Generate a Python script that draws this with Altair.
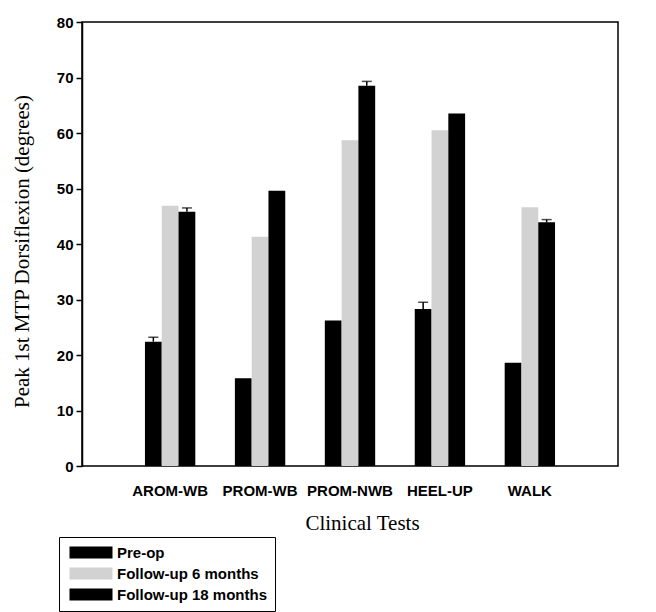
import altair as alt
import pandas as pd

tests = ["AROM-WB", "PROM-WB", "PROM-NWB", "HEEL-UP", "WALK"]
series = ["Pre-op", "Follow-up 6 months", "Follow-up 18 months"]
pre_op = [22.4, 15.8, 26.2, 28.3, 18.6]
fu6 = [46.9, 41.3, 58.7, 60.5, 46.6]
fu18 = [45.8, 49.6, 68.5, 63.5, 43.9]
err_pre = [0.8, 0.0, 0.0, 1.2, 0.0]
err_6 = [0.0, 0.0, 0.0, 0.0, 0.0]
err_18 = [0.7, 0.0, 0.8, 0.0, 0.5]

rows = []
for name, vals, errs in zip(series, [pre_op, fu6, fu18], [err_pre, err_6, err_18]):
    for t, v, e in zip(tests, vals, errs):
        rows.append({"test": t, "series": name, "value": v, "err": e, "top": v + e})
df = pd.DataFrame(rows)

SANS = "Liberation Sans"
SERIF = "Liberation Serif"

x_enc = alt.X(
    "test:N",
    sort=tests,
    scale=alt.Scale(paddingInner=0.44, paddingOuter=0.7),
    axis=alt.Axis(
        title="Clinical Tests",
        ticks=False,
        domain=False,
        labelAngle=0,
        labelPadding=17,
        labelFont=SANS,
        labelFontSize=15,
        labelFontWeight="bold",
        labelColor="black",
        titleFont=SERIF,
        titleFontSize=21,
        titleFontWeight="normal",
        titleColor="black",
        titleX=280,
        titleY=57,
        titleBaseline="middle",
        titleAlign="center",
    ),
)
xoff = alt.XOffset("series:N", sort=series, scale=alt.Scale(paddingInner=0, paddingOuter=0))

y_scale = alt.Scale(domain=[0, 80], nice=False)
y_axis = alt.Axis(
    title="Peak 1st MTP Dorsiflexion (degrees)",
    values=[0, 10, 20, 30, 40, 50, 60, 70, 80],
    grid=False,
    tickSize=6,
    tickColor="black",
    tickWidth=1.5,
    domainColor="black",
    domainWidth=1.5,
    labelPadding=3,
    labelFont=SANS,
    labelFontSize=15,
    labelFontWeight="bold",
    labelColor="black",
    titleFont=SERIF,
    titleFontSize=21,
    titleFontWeight="normal",
    titleColor="black",
    titleAngle=270,
    titleX=-60,
    titleY=229,
    titleBaseline="middle",
    titleAlign="center",
)

color = alt.Color(
    "series:N",
    sort=series,
    scale=alt.Scale(domain=series, range=["#000000", "#d2d2d2", "#000000"]),
    legend=alt.Legend(
        title=None,
        orient="none",
        legendX=-23,
        legendY=515,
        strokeColor="black",
        fillColor="white",
        padding=8,
        labelFont=SANS,
        labelFontSize=15,
        labelFontWeight="bold",
        labelColor="black",
        symbolType="M-1,-1.2H7.6V1.2H-1Z",
        symbolSize=100,
        symbolStrokeWidth=0,
        rowPadding=5,
        labelOffset=35,
    ),
)

bars = alt.Chart(df).mark_bar().encode(
    x=x_enc,
    xOffset=xoff,
    y=alt.Y("value:Q", scale=y_scale, axis=y_axis),
    color=color,
)

err_df = df[df["err"] > 0]
err_rule = alt.Chart(err_df).mark_rule(color="black", strokeWidth=1.5).encode(
    x=alt.X("test:N", sort=tests),
    xOffset=xoff,
    y="value:Q",
    y2="top:Q",
)
err_cap = alt.Chart(err_df).mark_tick(color="black", thickness=1.5, size=10).encode(
    x=alt.X("test:N", sort=tests),
    xOffset=xoff,
    y="top:Q",
)

chart = (
    alt.layer(bars, err_rule, err_cap)
    .properties(
        width=536,
        height=444,
        background="white",
        autosize=alt.AutoSizeParams(type="none"),
        padding={"left": 74, "top": 14, "right": 30, "bottom": 146},
    )
    .configure_view(stroke="black", strokeWidth=1.5)
)

chart.save("out.html", embed_options={"renderer": "svg", "actions": False})
